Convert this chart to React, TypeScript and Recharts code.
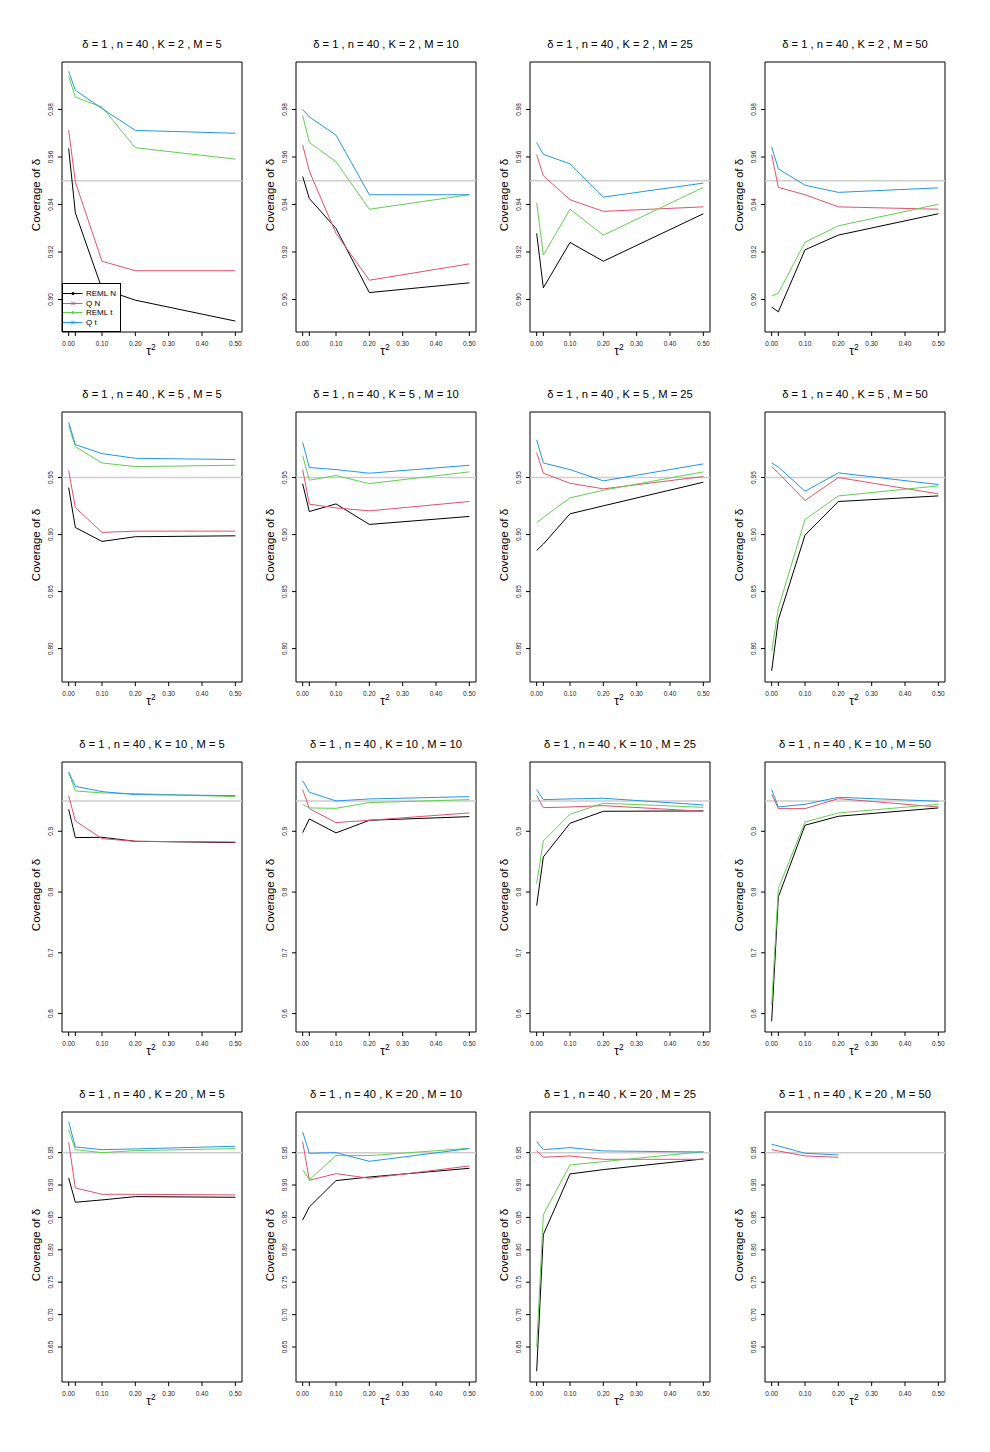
import React from "react";
import { LineChart, Line, XAxis, YAxis, ReferenceLine, ReferenceArea, Legend } from "recharts";

// ---------- data ----------
const tau2 = [0, 0.02, 0.1, 0.2, 0.5];
const kValues = [2, 5, 10, 20];
const mValues = [5, 10, 25, 50];
const xTicks = [0, 0.02, 0.1, 0.2, 0.3, 0.4, 0.5];
const xTickLabels = ["0.00", "", "0.10", "0.20", "0.30", "0.40", "0.50"];

const yTicksK2 = [0.9, 0.92, 0.94, 0.96, 0.98];
const yTicksK5 = [0.8, 0.85, 0.9, 0.95];
const yTicksK10 = [0.6, 0.7, 0.8, 0.9];
const yTicksK20 = [0.65, 0.7, 0.75, 0.8, 0.85, 0.9, 0.95];
const yDecimals = [2, 2, 1, 2];

const yDomainK2 = [0.8863, 1.0];
const yDomainK5 = [0.7707, 1.0075];
const yDomainK10 = [0.5697, 1.014];
const yDomainK20 = [0.596, 1.0127];

const nominal = 0.95;

const seriesNames = ["REML N", "Q N", "REML t", "Q t"];
const seriesColors = ["#000000", "#DF536B", "#61D04F", "#2297E6"];
const seriesMarkers = ["dot", "cross", "dot", "cross"];

// one row per M (5, 10, 25, 50), values at tau2
const remlN_K2 = [
  [0.9636, 0.9365, 0.9045, 0.8997, 0.8909],
  [0.9518, 0.9425, 0.9299, 0.9029, 0.907],
  [0.9278, 0.9049, 0.924, 0.9161, 0.9361],
  [0.8968, 0.8948, 0.9209, 0.9271, 0.9361],
];
const qN_K2 = [
  [0.9713, 0.9495, 0.9161, 0.9121, 0.9121],
  [0.9651, 0.954, 0.9278, 0.9081, 0.915],
  [0.961, 0.9521, 0.942, 0.9371, 0.939],
  [0.961, 0.9472, 0.9441, 0.939, 0.938],
];
const remlT_K2 = [
  [0.994, 0.9852, 0.981, 0.9639, 0.9591],
  [0.9775, 0.9661, 0.958, 0.938, 0.9441],
  [0.9407, 0.9187, 0.938, 0.9271, 0.9472],
  [0.9015, 0.9027, 0.9241, 0.931, 0.9401],
];
const qT_K2 = [
  [0.9961, 0.9881, 0.9804, 0.9712, 0.97],
  [0.98, 0.9769, 0.9692, 0.9441, 0.9441],
  [0.9661, 0.9611, 0.9571, 0.9431, 0.949],
  [0.9643, 0.955, 0.9481, 0.9451, 0.947],
];

const remlN_K5 = [
  [0.9412, 0.9062, 0.894, 0.8981, 0.8989],
  [0.9445, 0.9202, 0.9269, 0.9089, 0.9159],
  [0.8861, 0.8916, 0.9182, 0.9252, 0.9459],
  [0.7805, 0.8253, 0.8995, 0.929, 0.9339],
];
const qN_K5 = [
  [0.9561, 0.9237, 0.9019, 0.903, 0.903],
  [0.957, 0.9267, 0.9234, 0.9208, 0.929],
  [0.9719, 0.9538, 0.945, 0.9401, 0.9509],
  [0.9596, 0.954, 0.9299, 0.95, 0.9357],
];
const remlT_K5 = [
  [0.9958, 0.9771, 0.9628, 0.9596, 0.9608],
  [0.9693, 0.9477, 0.9518, 0.9447, 0.955],
  [0.9103, 0.915, 0.9322, 0.9389, 0.955],
  [0.7974, 0.8353, 0.9132, 0.9339, 0.9427],
];
const qT_K5 = [
  [0.9987, 0.9789, 0.971, 0.9669, 0.9658],
  [0.9809, 0.9588, 0.957, 0.9538, 0.9608],
  [0.983, 0.9628, 0.957, 0.9471, 0.962],
  [0.9628, 0.9593, 0.938, 0.9541, 0.9439],
];

const remlN_K10 = [
  [0.9362, 0.8896, 0.8901, 0.8835, 0.8814],
  [0.8978, 0.9203, 0.8973, 0.9181, 0.9241],
  [0.7777, 0.8578, 0.9132, 0.9329, 0.9335],
  [0.5874, 0.792, 0.9099, 0.9247, 0.9384],
];
const qN_K10 = [
  [0.9587, 0.917, 0.8879, 0.8835, 0.8824],
  [0.9686, 0.9373, 0.9143, 0.9181, 0.9302],
  [0.9592, 0.9389, 0.94, 0.9422, 0.9329],
  [0.9609, 0.9373, 0.9373, 0.9537, 0.94],
];
const remlT_K10 = [
  [0.9965, 0.9664, 0.9631, 0.962, 0.957],
  [0.9444, 0.9384, 0.9378, 0.9472, 0.9521],
  [0.8139, 0.8841, 0.928, 0.9461, 0.9395],
  [0.6148, 0.8057, 0.9154, 0.9302, 0.9444],
];
const qT_K10 = [
  [0.9976, 0.974, 0.9653, 0.9603, 0.9587],
  [0.9834, 0.9642, 0.9499, 0.9532, 0.957],
  [0.9686, 0.9521, 0.9532, 0.9543, 0.9433],
  [0.9686, 0.94, 0.9444, 0.9559, 0.9494],
];

const remlN_K20 = [
  [0.9109, 0.8734, 0.877, 0.8821, 0.8811],
  [0.8461, 0.8662, 0.9068, 0.9124, 0.9258],
  [0.6126, 0.8235, 0.9171, 0.9238, 0.9402],
  [null, null, null, null, null],
];
const qN_K20 = [
  [0.9659, 0.8955, 0.8857, 0.8857, 0.8847],
  [0.967, 0.9073, 0.9176, 0.9104, 0.9294],
  [0.9531, 0.9428, 0.9449, 0.9397, 0.9397],
  [0.9546, 0.9526, 0.9449, 0.9428, null],
];
const remlT_K20 = [
  [0.9855, 0.9546, 0.95, 0.9531, 0.9562],
  [0.9238, 0.9083, 0.9454, 0.9454, 0.9567],
  [0.6501, 0.8543, 0.931, 0.9361, 0.9515],
  [null, null, null, null, null],
];
const qT_K20 = [
  [0.9978, 0.9587, 0.9546, 0.9557, 0.9598],
  [0.9819, 0.949, 0.95, 0.9366, 0.9562],
  [0.967, 0.9546, 0.9577, 0.9526, 0.951],
  [0.9629, 0.9603, 0.949, 0.9464, null],
];

const rows = [
  { yTicks: yTicksK2, yDomain: yDomainK2, series: [remlN_K2, qN_K2, remlT_K2, qT_K2] },
  { yTicks: yTicksK5, yDomain: yDomainK5, series: [remlN_K5, qN_K5, remlT_K5, qT_K5] },
  { yTicks: yTicksK10, yDomain: yDomainK10, series: [remlN_K10, qN_K10, remlT_K10, qT_K10] },
  { yTicks: yTicksK20, yDomain: yDomainK20, series: [remlN_K20, qN_K20, remlT_K20, qT_K20] },
];

// ---------- layout ----------
const FONT = '"Liberation Sans", Arial, Helvetica, sans-serif';
const CHART_W = 250;
const CHART_H = 380;
const COL_LEFT = [0, 234, 468, 703];
const ROW_TOP = [0, 350, 700, 1050];

const XTick = (props: any) => {
  const { x, y, payload } = props;
  const idx = xTicks.indexOf(payload.value);
  const label = idx >= 0 ? xTickLabels[idx] : "";
  return (
    <text x={x} y={y + 8} textAnchor="middle" fontSize={6.5} fill="#222" fontFamily={FONT}>
      {label}
    </text>
  );
};

const YTick = (props: any) => {
  const { x, y, payload, decimals } = props;
  return (
    <text
      x={x}
      y={y}
      transform={`rotate(-90 ${x} ${y})`}
      textAnchor="middle"
      fontSize={6.5}
      fill="#222"
      fontFamily={FONT}
    >
      {Number(payload.value).toFixed(decimals)}
    </text>
  );
};

const XLabel = (props: any) => {
  const vb = props.viewBox || { x: 62, y: 332, width: 180 };
  const cx = vb.x + vb.width / 2;
  const y = vb.y + 23;
  return (
    <text x={cx - 1} y={y} textAnchor="middle" fontSize={12} fill="#000" fontFamily={FONT}>
      τ
      <tspan fontSize={8.5} dy={-5}>
        2
      </tspan>
    </text>
  );
};

const YLabel = (props: any) => {
  const vb = props.viewBox || { x: 12, y: 62, width: 50, height: 270 };
  const x = vb.x + 24;
  const y = vb.y + vb.height / 2 - 2;
  return (
    <text
      x={x}
      y={y}
      transform={`rotate(-90 ${x} ${y})`}
      textAnchor="middle"
      dominantBaseline="central"
      fontSize={11.5}
      fill="#000"
      fontFamily={FONT}
    >
      Coverage of δ
    </text>
  );
};

const TitleLabel = (props: any) => {
  const vb = props.viewBox || { x: 62, y: 62, width: 180 };
  return (
    <text
      x={vb.x + vb.width / 2}
      y={vb.y - 14}
      textAnchor="middle"
      fontSize={11.2}
      fill="#000"
      fontFamily={FONT}
    >
      {props.text}
    </text>
  );
};

const LegendBox = () => (
  <div
    style={{
      width: 59,
      height: 49,
      border: "1px solid #000",
      boxSizing: "border-box",
      background: "#fff",
      position: "relative",
      fontFamily: FONT,
    }}
  >
    {seriesNames.map((name, i) => (
      <div
        key={name}
        style={{ position: "absolute", left: 0, top: 5 + i * 9.5, height: 9, width: 58 }}
      >
        <svg width={22} height={9} style={{ position: "absolute", left: 0, top: 0 }}>
          <line x1={0} y1={4.5} x2={19.5} y2={4.5} stroke={seriesColors[i]} strokeWidth={1} />
          {seriesMarkers[i] === "dot" ? (
            <circle cx={10} cy={4.5} r={1.6} fill={seriesColors[i]} />
          ) : (
            <g stroke={seriesColors[i]} strokeWidth={1}>
              <line x1={8.2} y1={2.7} x2={11.8} y2={6.3} />
              <line x1={8.2} y1={6.3} x2={11.8} y2={2.7} />
            </g>
          )}
        </svg>
        <span
          style={{
            position: "absolute",
            left: 23,
            top: 0,
            fontSize: 8,
            lineHeight: "9px",
            color: "#000",
            whiteSpace: "nowrap",
          }}
        >
          {name}
        </span>
      </div>
    ))}
  </div>
);

function Panel({ ri, mi }: { ri: number; mi: number }) {
  const row = rows[ri];
  const data = tau2.map((x, i) => ({
    x,
    s0: row.series[0][mi][i],
    s1: row.series[1][mi][i],
    s2: row.series[2][mi][i],
    s3: row.series[3][mi][i],
  }));
  const title = `δ = 1 , n = 40 , K = ${kValues[ri]} , M = ${mValues[mi]}`;
  const showLegend = ri === 0 && mi === 0;
  return (
    <div style={{ position: "absolute", left: COL_LEFT[mi], top: ROW_TOP[ri] }}>
      <LineChart
        width={CHART_W}
        height={CHART_H}
        data={data}
        margin={{ top: 62, left: 12, right: 8, bottom: 28 }}
      >
        <XAxis
          dataKey="x"
          type="number"
          domain={[-0.02, 0.52]}
          ticks={xTicks}
          interval={0}
          allowDataOverflow
          height={20}
          tickSize={4}
          tickMargin={2}
          axisLine={false}
          tickLine={{ stroke: "#000" }}
          tick={<XTick />}
          label={<XLabel />}
        />
        <YAxis
          type="number"
          domain={row.yDomain}
          ticks={row.yTicks}
          interval={0}
          allowDataOverflow
          width={50}
          tickSize={4}
          tickMargin={5}
          axisLine={false}
          tickLine={{ stroke: "#000" }}
          tick={<YTick decimals={yDecimals[ri]} />}
          label={<YLabel />}
        />
        <ReferenceLine y={nominal} stroke="#CDCDCD" strokeWidth={1.5} ifOverflow="visible" />
        {seriesNames.map((n, si) => (
          <Line
            key={n}
            dataKey={`s${si}`}
            name={n}
            type="linear"
            stroke={seriesColors[si]}
            strokeWidth={1}
            dot={false}
            activeDot={false}
            connectNulls={false}
            isAnimationActive={false}
          />
        ))}
        <ReferenceArea
          x1={-0.02}
          x2={0.52}
          y1={row.yDomain[0]}
          y2={row.yDomain[1]}
          fill="none"
          fillOpacity={0}
          stroke="#000"
          strokeWidth={1}
          ifOverflow="visible"
          label={<TitleLabel text={title} />}
        />
        {showLegend && (
          <Legend
            layout="vertical"
            align="center"
            verticalAlign="middle"
            wrapperStyle={{ left: 62, top: 283, width: 59, height: 49 }}
            content={() => <LegendBox />}
          />
        )}
      </LineChart>
    </div>
  );
}

export default function App() {
  return (
    <div
      style={{
        position: "absolute",
        left: 0,
        top: 0,
        width: 990,
        height: 1452,
        background: "#fff",
        fontFamily: FONT,
      }}
    >
      {rows.map((_, ri) => mValues.map((__, mi) => <Panel key={`${ri}-${mi}`} ri={ri} mi={mi} />))}
    </div>
  );
}
